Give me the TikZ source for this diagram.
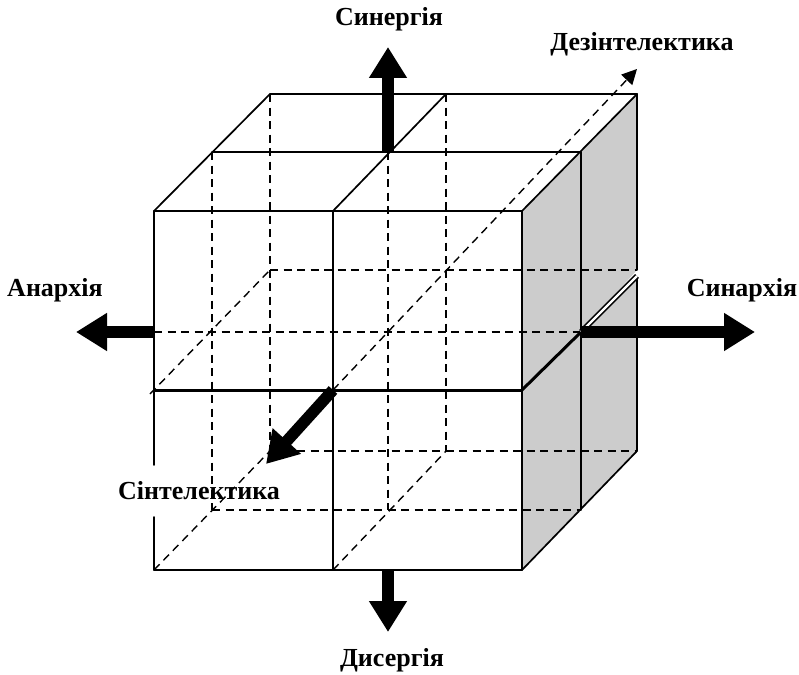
\documentclass[tikz,border=0pt]{standalone}
\usepackage{fontspec}
\setmainfont{Liberation Serif}
\usetikzlibrary{arrows.meta}
\definecolor{facegray}{gray}{0.8}
\tikzset{
  solidedge/.style={draw=black,line width=1.7pt,line cap=round},
  thickedge/.style={draw=black,line width=3pt},
  hidden/.style={draw=black,line width=1.4pt,dash pattern=on 8pt off 5.5pt},
  bigarrow/.style={draw=black,line width=11.5pt,-{Triangle[length=31pt,width=36pt]}},
  smallarrow/.style={draw=black,line width=1.4pt,dash pattern=on 8pt off 5.5pt,-{Triangle[length=15pt,width=15pt]}},
  axislabel/.style={font=\bfseries\fontsize{26}{28}\selectfont,inner sep=0pt,text=black}
}
\begin{document}
\begin{tikzpicture}[x=1pt,y=-1pt]
\useasboundingbox (0,0) rectangle (799,674);
\foreach \n/\x/\y in {ftl/154/211,fto/333/211,ftr/522/211,fcl/154/390,fco/333/390,fcr/522/390,fdl/154/570,fdo/333/570,fdr/522/570,
 mtl/212/152,mto/388/152,mtr/581/152,mcl/212/331,mcr/581/332,mdl/212/510,mdo/388/510,mdr/581/510,
 btl/270/94,bto/446/94,btr/637/94,bcl/270/270,bcr/637/270,bcrb/637/278,bdl/270/451,bdo/446/451,bdr/637/451,
 gapa/154/465,gapb/154/517,seam/637/276}
  {\coordinate (\n) at (\x,\y);}
\coordinate (ctop) at (388,47);
\coordinate (cbot) at (388,632);
\coordinate (cleft) at (76,332);
\coordinate (cright) at (755,332);
\coordinate (csyn) at (266,464);
\coordinate (cdes) at (637,69);
\coordinate (cfar) at (150,394);
\coordinate (cmo) at (154,332);
\coordinate (cdo) at (388,570);
% gray faces
\fill[facegray] (ftr) -- (btr) -- (bcr) -- (mcr) -- (fcr) -- cycle;
\fill[facegray] (fcr) -- (mcr) -- (bcrb) -- (bdr) -- (fdr) -- cycle;
% hidden edges
\draw[hidden] (cmo) -- (mcr);
\draw[hidden] (bcl) -- (bcr);
\draw[hidden] (bdl) -- (bdr);
\draw[hidden] (mdl) -- (mdr);
\draw[hidden] (mtl) -- (mdl);
\draw[hidden] (btl) -- (bdl);
\draw[hidden] (mto) -- (mdo);
\draw[hidden] (bto) -- (bdo);
\draw[hidden] (fdl) -- (bdl);
\draw[hidden] (fdo) -- (bdo);
\draw[hidden] (cfar) -- (bcl);
\draw[smallarrow] (fco) -- (cdes);
% visible edges
\draw[solidedge] (btl) -- (btr);
\draw[solidedge] (mtl) -- (mtr);
\draw[solidedge] (ftl) -- (ftr);
\draw[solidedge] (ftl) -- (btl);
\draw[solidedge] (fto) -- (bto);
\draw[solidedge] (ftr) -- (btr);
\draw[solidedge] (ftl) -- (gapa);
\draw[solidedge] (gapb) -- (fdl);
\draw[solidedge] (fto) -- (fdo);
\draw[solidedge] (ftr) -- (fdr);
\draw[solidedge] (mtr) -- (mdr);
\draw[solidedge] (btr) -- (bcr);
\draw[solidedge] (bcrb) -- (bdr);
\draw[solidedge] (fdl) -- (fdr);
\draw[solidedge] (fdr) -- (bdr);
% thick middle seam, split into a double line towards the back
\draw[thickedge] (fcl) -- (fcr);
\draw[thickedge] (fcr) -- (mcr);
\draw[draw=black,line width=5.5pt] (mcr) -- (seam);
\draw[draw=white,line width=2.2pt] (mcr) -- (seam);
% big arrows
\draw[bigarrow] (mto) -- (ctop);
\draw[bigarrow] (cdo) -- (cbot);
\draw[bigarrow] (cmo) -- (cleft);
\draw[bigarrow] (mcr) -- (cright);
\draw[bigarrow] (fco) -- (csyn);
% labels
\node[axislabel] (lsyn) at (389,19) {Синергія};
\node[axislabel] (ldes) at (642,44) {Дезінтелектика};
\node[axislabel] (lana) at (55,290) {Анархія};
\node[axislabel] (lsnr) at (742,290) {Синархія};
\node[axislabel] (lsin) at (199,491) {Сінтелектика};
\node[axislabel] (ldis) at (392,660) {Дисергія};
\end{tikzpicture}
\end{document}
